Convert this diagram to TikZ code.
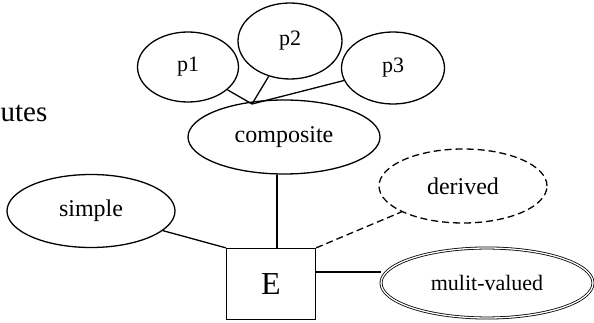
\documentclass[tikz,border=0pt]{standalone}
\usepackage{fontspec}
\setmainfont{Liberation Serif}
\usetikzlibrary{shapes.geometric}
\begin{document}
\begin{tikzpicture}[x=1pt,y=-1pt, line width=1.3pt,
        attr/.style={draw, ellipse, inner sep=0pt, font=\fontsize{24}{27}\selectfont},
        entity/.style={draw, rectangle, minimum width=89, minimum height=71, font=\fontsize{32}{36}\selectfont}]
            \useasboundingbox (0,0) rectangle (594,323);

            \node[anchor=base west, font=\fontsize{29}{32}\selectfont, inner sep=0pt] (title) at (0,122) {utes};

            \node[attr, font=\fontsize{22}{25}\selectfont, minimum width=101, minimum height=70] (p1) at (188,67) {p1};
            \node[attr, font=\fontsize{22}{25}\selectfont, minimum width=104, minimum height=76] (p2) at (290,41) {p2};
            \node[attr, font=\fontsize{22}{25}\selectfont, minimum width=103, minimum height=72] (p3) at (393,68) {p3};
            \node[attr, minimum width=192, minimum height=74] (comp) at (284,137) {composite};
            \coordinate (j) at (252,104);

            \node[attr, minimum width=168, minimum height=73] (simple) at (91,211) {simple};
            \node[attr, dashed, dash pattern=on 7pt off 4pt, minimum width=168, minimum height=74] (der) at (463,186) {derived};
            \node[attr, font=\fontsize{22}{25}\selectfont, double, double distance=1.3pt, line width=0.8pt, minimum width=212, minimum height=70] (mv) at (487,283) {mulit-valued};

            \node[entity] (E) at (271,284) {E};

            \draw (p1) -- (j);
            \draw (p2) -- (j);
            \draw (p3) -- (j);

            \draw ([xshift=6pt]E.north) -- ([xshift=6pt]E.north |- comp.south);
            \draw (simple) -- (E.north west);
            \draw[dashed, dash pattern=on 7pt off 4pt] (E.north east) -- (der);
            \draw ([yshift=12pt]E.east) -- ([yshift=12pt]E.east -| mv.west);
        \end{tikzpicture}
\end{document}
